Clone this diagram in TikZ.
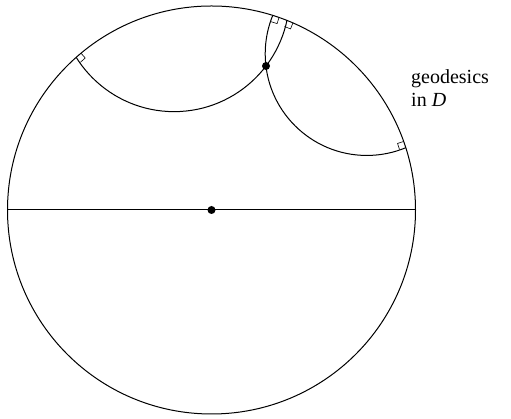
\documentclass[tikz,border=0pt]{standalone}
\usepackage{fontspec}
\setmainfont{Liberation Serif}
\begin{document}
\begin{tikzpicture}[x=1pt,y=1pt,
  geo/.style={line width=1pt},
  rmark/.style={line width=0.6pt},
  pt/.style={circle,fill=black,inner sep=0pt,minimum size=8pt},
  lbl/.style={font=\fontsize{20}{23}\selectfont,align=left,inner sep=0pt}
]
\useasboundingbox (0,0) rectangle (511,419);
\coordinate (O) at (211.5,209);
\coordinate (L) at (7.5,209);
\coordinate (Rr) at (415.5,209);
\draw[geo] (O) circle[radius=204];
\begin{scope}
  \clip (O) circle[radius=204];
  \draw[geo] (174.1,422.75) circle[radius=115.4];
  \draw[geo] (366.8,365.14) circle[radius=101.6];
\end{scope}
\draw[geo] (L) -- (Rr);
% right-angle marks
\draw[rmark,shift={(O)},rotate=131.6] (197.5,0) -- (197.5,-6.5) -- (204,-6.5);
\draw[rmark,shift={(O)},rotate=68.3] (197.5,0) -- (197.5,-6.5) -- (204,-6.5);
\draw[rmark,shift={(O)},rotate=72.5] (197.5,0) -- (197.5,-6.5) -- (204,-6.5);
\draw[rmark,shift={(O)},rotate=17.8] (197.5,0) -- (197.5,6.5) -- (204,6.5);
\node[pt] (c) at (O) {};
\node[pt] (p) at (266,353) {};
\node[lbl,anchor=base west] (t) at (411,312) {geodesics\\in \textit{D}};
\end{tikzpicture}
\end{document}
